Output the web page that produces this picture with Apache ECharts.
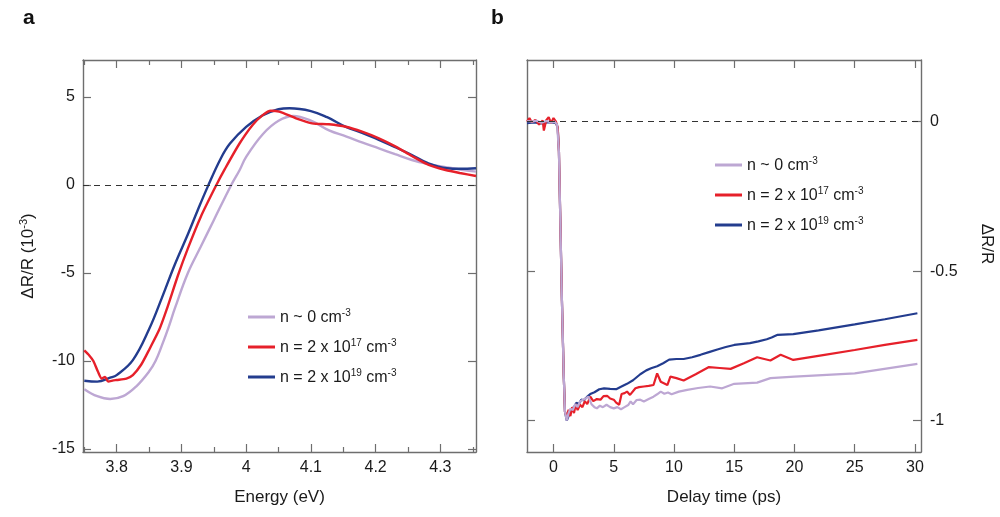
<!DOCTYPE html>
<html>
<head>
<meta charset="utf-8">
<script src="https://cdn.jsdelivr.net/npm/echarts@6/dist/echarts.min.js"></script>
<style>
html,body{margin:0;padding:0;background:#fff;}
#chart{width:1000px;height:517px;}
</style>
</head>
<body>
<div id="chart"></div>
<script>
// ---------- Panel a: spectra [energy (eV), dR/R (1e-3)] ----------
const specLav = [[3.75,-11.6],[3.77,-12.0],[3.79,-12.16],[3.81,-12.0],[3.83,-11.45],[3.85,-10.6],[3.86,-10.0],[3.87,-9.1],[3.88,-8.1],[3.89,-7.0],[3.91,-5.0],[3.93,-3.5],[3.95,-2.0],[3.977,0],[3.99,0.85],[4.0,1.6],[4.026,2.9],[4.05,3.65],[4.073,3.92],[4.10,3.65],[4.128,3.1],[4.155,2.75],[4.18,2.4],[4.205,2.08],[4.23,1.75],[4.256,1.42],[4.28,1.2],[4.31,1.0],[4.33,0.88],[4.355,0.76]];
const specRed = [[3.75,-9.4],[3.758,-9.7],[3.764,-10.0],[3.771,-10.6],[3.777,-11.0],[3.782,-10.9],[3.787,-11.17],[3.795,-11.1],[3.80,-11.08],[3.815,-11.0],[3.825,-10.8],[3.838,-10.2],[3.851,-9.3],[3.866,-8.2],[3.877,-7.1],[3.895,-5.1],[3.91,-3.6],[3.93,-1.8],[3.954,0],[3.967,0.9],[3.99,2.37],[4.01,3.41],[4.026,3.98],[4.038,4.22],[4.051,4.17],[4.077,3.79],[4.102,3.5],[4.128,3.45],[4.154,3.31],[4.179,3.03],[4.205,2.65],[4.231,2.18],[4.256,1.65],[4.282,1.14],[4.308,0.85],[4.33,0.68],[4.355,0.51]];
const specBlue = [[3.75,-11.12],[3.77,-11.17],[3.79,-10.95],[3.80,-10.8],[3.825,-9.95],[3.85,-8.2],[3.87,-6.4],[3.89,-4.5],[3.91,-2.8],[3.925,-1.45],[3.94,-0.15],[3.96,1.45],[3.975,2.35],[4.0,3.3],[4.025,3.95],[4.05,4.3],[4.067,4.36],[4.10,4.2],[4.125,3.85],[4.154,3.3],[4.18,2.95],[4.205,2.56],[4.23,2.15],[4.256,1.7],[4.28,1.25],[4.31,0.95],[4.33,0.92],[4.355,0.95]];

// ---------- Panel b: transients [delay (ps), dR/R] ----------
const kinLav = [[-2.2,0.002],[-1.8,0.0],[-1.4,0.003],[-1.0,-0.004],[-0.6,0.002],[-0.2,-0.003],[0.1,0.0],[0.3,-0.01],[0.45,-0.1],[0.55,-0.3],[0.7,-0.6],[0.85,-0.85],[0.95,-0.97],[1.1,-1.0],[1.25,-0.975],[1.4,-0.96],[1.6,-0.965],[1.8,-0.945],[2.0,-0.955],[2.2,-0.936],[2.45,-0.93],[2.7,-0.925],[2.9,-0.92],[3.15,-0.945],[3.4,-0.955],[3.6,-0.959],[3.85,-0.95],[4.1,-0.955],[4.4,-0.947],[4.7,-0.955],[5.0,-0.959],[5.3,-0.955],[5.6,-0.962],[5.9,-0.955],[6.2,-0.948],[6.4,-0.936],[6.6,-0.945],[6.9,-0.931],[7.2,-0.93],[7.5,-0.936],[7.9,-0.928],[8.3,-0.92],[8.6,-0.912],[8.9,-0.903],[9.2,-0.91],[9.5,-0.906],[9.8,-0.912],[10.4,-0.903],[11.1,-0.897],[12.0,-0.891],[13.0,-0.886],[14.0,-0.892],[15.0,-0.877],[16.9,-0.873],[18.0,-0.858],[20.0,-0.853],[25.0,-0.842],[30.2,-0.81]];
const kinRed = [[-2.2,0.0],[-2.0,0.012],[-1.8,-0.002],[-1.5,0.006],[-1.2,-0.01],[-0.9,0.004],[-0.8,-0.03],[-0.6,0.005],[-0.4,0.015],[-0.2,-0.005],[0.0,0.012],[0.2,0.0],[0.35,-0.02],[0.45,-0.1],[0.55,-0.3],[0.7,-0.6],[0.85,-0.85],[0.95,-0.97],[1.1,-0.99],[1.25,-0.964],[1.4,-0.985],[1.55,-0.955],[1.7,-0.975],[1.85,-0.945],[2.0,-0.965],[2.2,-0.947],[2.4,-0.955],[2.6,-0.935],[2.8,-0.945],[3.05,-0.92],[3.3,-0.935],[3.6,-0.928],[3.9,-0.93],[4.15,-0.918],[4.45,-0.917],[4.7,-0.926],[5.0,-0.93],[5.2,-0.94],[5.45,-0.947],[5.65,-0.911],[5.9,-0.908],[6.1,-0.903],[6.35,-0.914],[6.8,-0.892],[7.1,-0.888],[7.5,-0.886],[7.9,-0.884],[8.3,-0.881],[8.6,-0.842],[8.9,-0.87],[9.2,-0.876],[9.45,-0.881],[9.7,-0.853],[10.2,-0.858],[10.8,-0.866],[11.8,-0.845],[12.9,-0.821],[13.8,-0.824],[14.7,-0.827],[15.8,-0.808],[16.9,-0.788],[18.0,-0.799],[18.85,-0.78],[19.9,-0.797],[22.5,-0.78],[25,-0.764],[27.5,-0.747],[30.2,-0.73]];
const kinBlue = [[-2.2,-0.005],[-1.6,-0.003],[-1.0,-0.006],[-0.4,-0.002],[0.2,-0.004],[0.35,-0.02],[0.45,-0.1],[0.55,-0.3],[0.7,-0.6],[0.85,-0.85],[0.95,-0.97],[1.1,-1.0],[1.3,-0.98],[1.5,-0.96],[1.7,-0.955],[1.9,-0.94],[2.1,-0.945],[2.3,-0.93],[2.5,-0.932],[2.8,-0.92],[3.1,-0.91],[3.4,-0.905],[3.8,-0.895],[4.2,-0.892],[4.7,-0.894],[5.2,-0.895],[5.6,-0.887],[6.1,-0.877],[6.6,-0.865],[7.2,-0.845],[7.7,-0.832],[8.1,-0.825],[8.6,-0.818],[9.1,-0.808],[9.6,-0.796],[10.2,-0.794],[10.8,-0.794],[11.5,-0.788],[12.2,-0.78],[12.9,-0.771],[13.6,-0.762],[14.3,-0.754],[15.0,-0.747],[16.3,-0.741],[17.0,-0.735],[17.7,-0.728],[18.1,-0.722],[18.6,-0.713],[19.9,-0.711],[22,-0.698],[25,-0.678],[27.5,-0.661],[30.2,-0.641]];

// ---------- ticks ----------
const energyTicks = [3.8,3.9,4.0,4.1,4.2,4.3];
const energyMinor = [3.75,3.85,3.95,4.05,4.15,4.25,4.35];
const specTicks = [-15,-10,-5,0,5];
const delayTicks = [0,5,10,15,20,25,30];
const kinTicks = [-1,-0.5,0];

const legendNames = {
  a0: '{n|n ~ 0 cm}{s|-3}',
  a17: '{n|n = 2 x 10}{s|17}{n| cm}{s|-3}',
  a19: '{n|n = 2 x 10}{s|19}{n| cm}{s|-3}'
};
legendNames.b0 = legendNames.a0; legendNames.b17 = legendNames.a17; legendNames.b19 = legendNames.a19;

const C_LAV = '#bda7d3', C_RED = '#e6202a', C_BLUE = '#233c8e';
const FRAME = '#6e6e6e', TXT = '#1a1a1a', FONT = 'Liberation Sans, Arial, sans-serif';

const rich = {
  n: {fontSize: 16, fontFamily: FONT, color: TXT, lineHeight: 18, verticalAlign: 'bottom'},
  s: {fontSize: 10, fontFamily: FONT, color: TXT, lineHeight: 18, verticalAlign: 'top'}
};
const richName = {
  n: {fontSize: 17, fontFamily: FONT, color: TXT, lineHeight: 19, verticalAlign: 'bottom'},
  s: {fontSize: 11, fontFamily: FONT, color: TXT, lineHeight: 19, verticalAlign: 'top'}
};

function frameAxis(extra) {
  return Object.assign({
    type: 'value', splitLine: {show: false},
    axisLine: {show: true, onZero: false, lineStyle: {color: FRAME, width: 1.4}},
    axisTick: {show: true, inside: true, length: 8, lineStyle: {color: FRAME, width: 1.2}},
    axisLabel: {show: false}
  }, extra);
}
function minorAxis(extra, vals) {
  return Object.assign({
    type: 'value', splitLine: {show: false},
    axisLine: {show: false, onZero: false},
    axisTick: {show: true, inside: true, length: 5, customValues: vals, lineStyle: {color: FRAME, width: 1.2}},
    axisLabel: {show: false}
  }, extra);
}
const labelStyle = {color: TXT, fontSize: 16, fontFamily: FONT};
const titleStyle = {color: TXT, fontSize: 17, fontFamily: FONT};

const chart = echarts.init(document.getElementById('chart'), null, {renderer: 'canvas'});
const option = {
  backgroundColor: '#ffffff',
  animation: false,
  title: [
    {text: 'a', left: 18, top: 3, textStyle: {fontSize: 21, fontWeight: 'bold', color: '#111', fontFamily: FONT}},
    {text: 'b', left: 486, top: 3, textStyle: {fontSize: 21, fontWeight: 'bold', color: '#111', fontFamily: FONT}}
  ],
  grid: [
    {left: 83, top: 60, width: 393, height: 392},
    {left: 527, top: 60, width: 394, height: 392}
  ],
  legend: [
    {data: ['a0','a17','a19'], orient: 'vertical', left: 243, top: 303, itemWidth: 27, itemHeight: 3, itemGap: 12,
     icon: 'rect', formatter: n => legendNames[n], textStyle: {rich: rich}, selectedMode: false},
    {data: ['b0','b17','b19'], orient: 'vertical', left: 710, top: 151, itemWidth: 27, itemHeight: 3, itemGap: 12,
     icon: 'rect', formatter: n => legendNames[n], textStyle: {rich: rich}, selectedMode: false}
  ],
  xAxis: [
    frameAxis({gridIndex: 0, position: 'bottom', min: 3.748, max: 4.355,
      axisTick: {show: true, inside: true, length: 8, customValues: energyTicks, lineStyle: {color: FRAME, width: 1.2}},
      axisLabel: Object.assign({show: true, margin: 8, customValues: energyTicks}, labelStyle),
      name: 'Energy (eV)', nameLocation: 'middle', nameGap: 37, nameTextStyle: titleStyle}),
    minorAxis({gridIndex: 0, position: 'bottom', min: 3.748, max: 4.355}, energyMinor),
    frameAxis({gridIndex: 0, position: 'top', min: 3.748, max: 4.355,
      axisTick: {show: true, inside: true, length: 8, customValues: energyTicks, lineStyle: {color: FRAME, width: 1.2}}}),
    minorAxis({gridIndex: 0, position: 'top', min: 3.748, max: 4.355}, energyMinor),
    frameAxis({gridIndex: 1, position: 'bottom', min: -2.2, max: 30.5,
      axisTick: {show: true, inside: true, length: 8, customValues: delayTicks, lineStyle: {color: FRAME, width: 1.2}},
      axisLabel: Object.assign({show: true, margin: 8, customValues: delayTicks}, labelStyle),
      name: 'Delay time (ps)', nameLocation: 'middle', nameGap: 37, nameTextStyle: titleStyle}),
    frameAxis({gridIndex: 1, position: 'top', min: -2.2, max: 30.5,
      axisTick: {show: true, inside: true, length: 8, customValues: delayTicks, lineStyle: {color: FRAME, width: 1.2}}})
  ],
  yAxis: [
    frameAxis({gridIndex: 0, position: 'left', min: -15.17, max: 7.1,
      axisTick: {show: true, inside: true, length: 8, customValues: specTicks, lineStyle: {color: FRAME, width: 1.2}},
      axisLabel: Object.assign({show: true, margin: 8, customValues: specTicks}, labelStyle),
      name: '{n|ΔR/R (10}{s|-3}{n|)}', nameLocation: 'middle', nameGap: 46,
      nameTextStyle: {rich: richName}}),
    frameAxis({gridIndex: 0, position: 'right', min: -15.17, max: 7.1,
      axisTick: {show: true, inside: true, length: 8, customValues: specTicks, lineStyle: {color: FRAME, width: 1.2}}}),
    frameAxis({gridIndex: 1, position: 'left', min: -1.105, max: 0.206,
      axisTick: {show: true, inside: true, length: 8, customValues: kinTicks, lineStyle: {color: FRAME, width: 1.2}}}),
    frameAxis({gridIndex: 1, position: 'right', min: -1.105, max: 0.206,
      axisTick: {show: true, inside: true, length: 8, customValues: kinTicks, lineStyle: {color: FRAME, width: 1.2}},
      axisLabel: Object.assign({show: true, margin: 9, customValues: kinTicks}, labelStyle),
      name: 'ΔR/R', nameLocation: 'middle', nameGap: 57, nameRotate: -90,
      nameTextStyle: {color: TXT, fontSize: 17, fontFamily: FONT, padding: [0, 24, 0, 0]}})
  ],
  series: [
    {name: 'a0', type: 'line', xAxisIndex: 0, yAxisIndex: 0, data: specLav, showSymbol: false, smooth: 0.4,
     lineStyle: {color: C_LAV, width: 2.4}, itemStyle: {color: C_LAV},
     markLine: {silent: true, symbol: ['none','none'], label: {show: false},
       lineStyle: {type: [6,5], color: '#333', width: 1}, data: [{yAxis: 0}]}},
    {name: 'a19', type: 'line', xAxisIndex: 0, yAxisIndex: 0, data: specBlue, showSymbol: false, smooth: 0.4,
     lineStyle: {color: C_BLUE, width: 2.4}, itemStyle: {color: C_BLUE}},
    {name: 'a17', type: 'line', xAxisIndex: 0, yAxisIndex: 0, data: specRed, showSymbol: false, smooth: 0.25,
     lineStyle: {color: C_RED, width: 2.4}, itemStyle: {color: C_RED}},
    {name: 'b19', type: 'line', xAxisIndex: 4, yAxisIndex: 3, data: kinBlue, showSymbol: false,
     lineStyle: {color: C_BLUE, width: 2.2}, itemStyle: {color: C_BLUE},
     markLine: {silent: true, symbol: ['none','none'], label: {show: false},
       lineStyle: {type: [6,5], color: '#333', width: 1}, data: [{yAxis: 0}]}},
    {name: 'b17', type: 'line', xAxisIndex: 4, yAxisIndex: 3, data: kinRed, showSymbol: false,
     lineStyle: {color: C_RED, width: 2.2}, itemStyle: {color: C_RED}},
    {name: 'b0', type: 'line', xAxisIndex: 4, yAxisIndex: 3, data: kinLav, showSymbol: false,
     lineStyle: {color: C_LAV, width: 2.2}, itemStyle: {color: C_LAV}}
  ]
};
chart.setOption(option);
</script>
</body>
</html>
